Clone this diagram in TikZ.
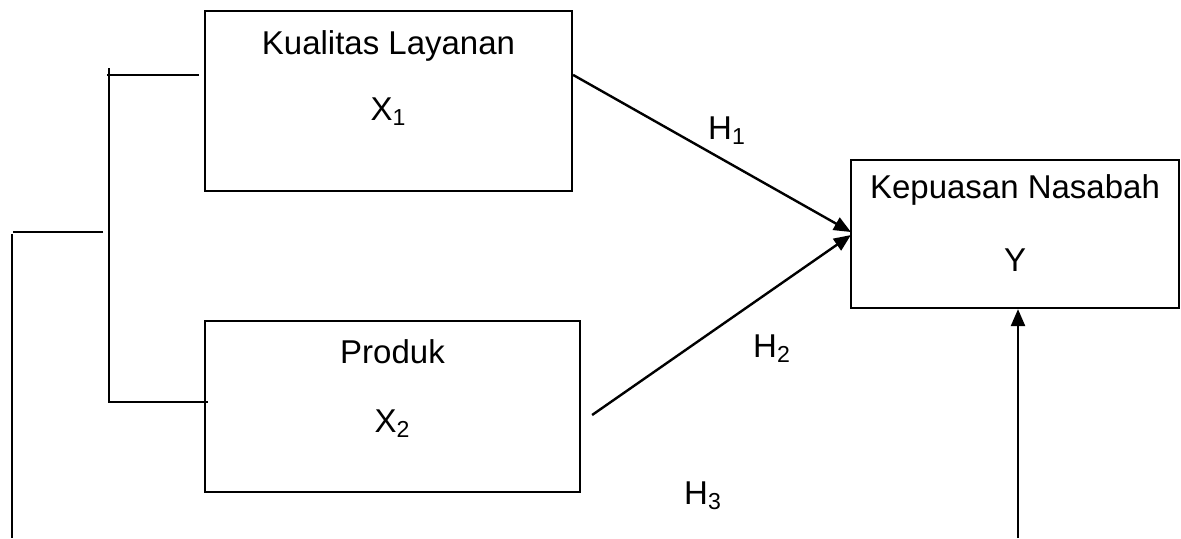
\documentclass[tikz,border=0pt]{standalone}
\usepackage{fontspec}
\setmainfont{Liberation Sans}
\usetikzlibrary{arrows.meta,calc}
\tikzset{
  box/.style={draw, line width=1.1pt, inner sep=0pt},
  lbl/.style={inner sep=0pt, font=\fontsize{16.5}{20}\selectfont},
  ln/.style={line width=1.2pt},
  arr/.style={line width=1.2pt, -{Triangle[length=8.5pt,width=7pt]}}
}
\begin{document}
\begin{tikzpicture}[x=0.5pt,y=-0.5pt]
\useasboundingbox (0,0) rectangle (1181,538);
% boxes
\node[box, minimum width=183.5pt, minimum height=90pt] (kl) at (388.5,101) {};
\node[box, minimum width=187.5pt, minimum height=85.5pt] (pr) at (392.5,406.5) {};
\node[box, minimum width=164pt, minimum height=74pt] (kp) at (1015,234) {};
% texts
\node[lbl] (t1) at (388.5,46) {Kualitas Layanan};
\node[lbl] (t2) at (388.5,112) {X\textsubscript{1}};
\node[lbl] (t3) at (392.5,352) {Produk};
\node[lbl] (t4) at (392.5,424) {X\textsubscript{2}};
\node[lbl] (t5) at (1015,190) {Kepuasan Nasabah};
\node[lbl] (t6) at (1015,260) {Y};
\node[lbl] (h1) at (727,131) {H\textsubscript{1}};
\node[lbl] (h2) at (772,349) {H\textsubscript{2}};
\node[lbl] (h3) at (703,496) {H\textsubscript{3}};
% arrows
\coordinate (s1) at ($(kl.north east)+(0,65)$);
\coordinate (e1) at ($(kp.west)+(1,-2)$);
\coordinate (s2) at ($(pr.east)+(11,8.5)$);
\coordinate (e2) at ($(kp.west)+(1,1)$);
\coordinate (s3) at (1018,538);
\draw[arr] (s1) -- (e1);
\draw[arr] (s2) -- (e2);
\draw[arr] (s3) -- (s3 |- kp.south);
% bracket
\draw[ln] (109,68) -- (109,402) -- (208,402);
\draw[ln] (107,75) -- (199,75);
\draw[ln] (103,232) -- (13,232);
\draw[ln] (12,234) -- (12,538);
\end{tikzpicture}
\end{document}
